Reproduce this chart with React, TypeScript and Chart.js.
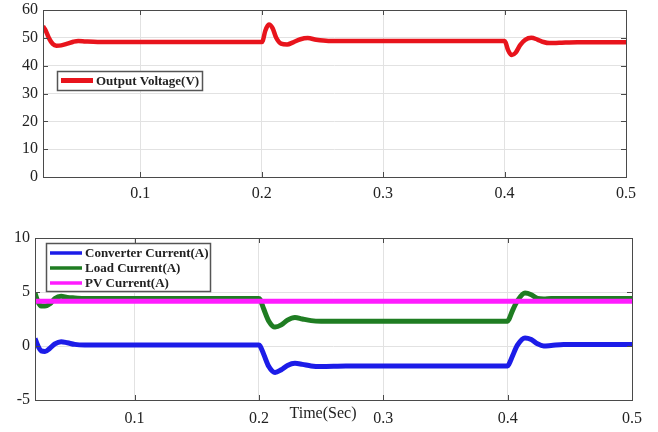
import React, { useEffect, useRef } from "react";
import { Chart, registerables } from "chart.js";

Chart.register(...registerables);

// ---------- DATA ----------
const xTickValues = [0.1, 0.2, 0.3, 0.4, 0.5];

const voltageTime = [0.02, 0.022, 0.025, 0.028, 0.031, 0.035, 0.04, 0.045, 0.049, 0.055, 0.065, 0.2, 0.201, 0.203, 0.206, 0.209, 0.212, 0.216, 0.221, 0.226, 0.232, 0.238, 0.245, 0.255, 0.27, 0.4, 0.401, 0.403, 0.406, 0.409, 0.413, 0.417, 0.422, 0.427, 0.432, 0.437, 0.445, 0.46, 0.5];
const outputVoltage = [54.2, 52.8, 49.8, 47.8, 47.2, 47.3, 47.9, 48.6, 48.9, 48.7, 48.5, 48.5, 49.0, 52.5, 54.8, 53.5, 50.0, 47.9, 47.6, 48.4, 49.5, 49.9, 49.3, 48.9, 48.9, 48.9, 48.2, 45.5, 43.8, 44.6, 47.5, 49.3, 50.0, 49.4, 48.5, 48.1, 48.2, 48.4, 48.4];

const currentTime = [0.02, 0.022, 0.025, 0.028, 0.032, 0.036, 0.041, 0.046, 0.052, 0.06, 0.2, 0.201, 0.204, 0.208, 0.213, 0.218, 0.223, 0.229, 0.235, 0.242, 0.25, 0.27, 0.4, 0.401, 0.404, 0.408, 0.414, 0.419, 0.424, 0.429, 0.435, 0.445, 0.46, 0.5];
const converterCurrent = [0.7, 0.1, -0.45, -0.5, -0.2, 0.2, 0.4, 0.3, 0.15, 0.1, 0.1, 0.0, -0.8, -1.9, -2.45, -2.2, -1.8, -1.6, -1.7, -1.85, -1.9, -1.85, -1.85, -1.7, -0.9, 0.1, 0.75, 0.6, 0.2, 0.0, 0.05, 0.15, 0.15, 0.15];
const loadCurrent = [4.9, 4.2, 3.7, 3.7, 3.9, 4.4, 4.6, 4.5, 4.45, 4.4, 4.4, 4.3, 3.4, 2.3, 1.75, 1.95, 2.4, 2.65, 2.5, 2.35, 2.3, 2.3, 2.3, 2.45, 3.3, 4.2, 4.9, 4.75, 4.4, 4.35, 4.4, 4.4, 4.4, 4.4];
const pvTime = [0.02, 0.5];
const pvCurrent = [4.15, 4.15];

const zip = (xs: number[], ys: number[]) => xs.map((x, i) => ({ x, y: ys[i] }));

const SERIF = "'Liberation Serif', 'Times New Roman', serif";

// ---------- PLUGIN: MATLAB-style frame, inward ticks, legend, extra label ----------
const matlabPlugin = {
  id: "matlabFrame",
  afterDraw(chart: any, _args: any, opts: any) {
    const { ctx, chartArea: a, scales } = chart;
    ctx.save();
    // frame
    ctx.strokeStyle = "#4a4a4a";
    ctx.lineWidth = 1;
    ctx.strokeRect(Math.round(a.left) + 0.5, Math.round(a.top) + 0.5, Math.round(a.width), Math.round(a.height));
    // inward ticks
    const tl = 5;
    ctx.beginPath();
    scales.x.ticks.forEach((t: any) => {
      const px = Math.round(scales.x.getPixelForValue(t.value)) + 0.5;
      ctx.moveTo(px, a.bottom);
      ctx.lineTo(px, a.bottom - tl);
      ctx.moveTo(px, a.top);
      ctx.lineTo(px, a.top + tl);
    });
    scales.y.ticks.forEach((t: any) => {
      const py = Math.round(scales.y.getPixelForValue(t.value)) + 0.5;
      ctx.moveTo(a.left, py);
      ctx.lineTo(a.left + tl, py);
      ctx.moveTo(a.right, py);
      ctx.lineTo(a.right - tl, py);
    });
    ctx.stroke();

    // legend
    const L = opts && opts.legend;
    if (L) {
      ctx.fillStyle = "#ffffff";
      ctx.fillRect(L.x, L.y, L.w, L.h);
      ctx.strokeStyle = "#555555";
      ctx.lineWidth = 1.5;
      ctx.strokeRect(L.x + 0.5, L.y + 0.5, L.w, L.h);
      ctx.font = `bold 13px ${SERIF}`;
      ctx.textBaseline = "middle";
      ctx.textAlign = "left";
      chart.data.datasets.forEach((ds: any, i: number) => {
        const cy = L.y + L.firstRow + i * L.rowGap;
        ctx.strokeStyle = ds.borderColor;
        ctx.lineWidth = L.lineWidth;
        ctx.beginPath();
        ctx.moveTo(L.x + L.lineStart, cy);
        ctx.lineTo(L.x + L.lineStart + L.lineLen, cy);
        ctx.stroke();
        ctx.fillStyle = "#222222";
        ctx.fillText(ds.label, L.x + L.lineStart + L.lineLen + 3, cy + 1);
      });
    }
    // extra label
    const T = opts && opts.title;
    if (T) {
      ctx.font = `16px ${SERIF}`;
      ctx.fillStyle = "#222222";
      ctx.textAlign = "center";
      ctx.textBaseline = "middle";
      ctx.fillText(T.text, T.x, T.y);
    }
    ctx.restore();
  },
};

function makeScales(yMin: number, yMax: number, yStep: number, yWidth: number, xHeight: number, xPad: number) {
  return {
    x: {
      type: "linear",
      min: 0.02,
      max: 0.5,
      afterBuildTicks: (s: any) => {
        s.ticks = xTickValues.map((v) => ({ value: v }));
      },
      afterFit: (s: any) => {
        s.height = xHeight;
        s.paddingLeft = 0;
        s.paddingRight = 0;
      },
      grid: { color: "#e2e2e2", lineWidth: 1, drawTicks: false },
      border: { display: false },
      ticks: {
        color: "#222222",
        font: { family: SERIF, size: 16 },
        padding: xPad,
        maxRotation: 0,
        autoSkip: false,
        callback: (v: number) => String(Math.round(v * 10) / 10),
      },
    },
    y: {
      min: yMin,
      max: yMax,
      afterFit: (s: any) => {
        s.width = yWidth;
        s.paddingTop = 0;
        s.paddingBottom = 0;
      },
      grid: { color: "#e2e2e2", lineWidth: 1, drawTicks: false },
      border: { display: false },
      ticks: {
        stepSize: yStep,
        color: "#222222",
        font: { family: SERIF, size: 16 },
        padding: 5,
      },
    },
  };
}

function TopChart() {
  const ref = useRef<HTMLCanvasElement | null>(null);
  useEffect(() => {
    const chart = new Chart(ref.current as HTMLCanvasElement, {
      type: "line",
      data: {
        datasets: [
          {
            label: "Output Voltage(V)",
            data: zip(voltageTime, outputVoltage),
            borderColor: "#e8141c",
            borderWidth: 4.5,
            pointRadius: 0,
            cubicInterpolationMode: "monotone",
          },
        ],
      },
      options: {
        animation: false,
        responsive: false,
        devicePixelRatio: 1,
        layout: { padding: { top: 10, right: 32, left: 0, bottom: 0 } },
        scales: makeScales(0, 60, 10, 43, 38, 7) as any,
        plugins: {
          legend: { display: false },
          tooltip: { enabled: false },
          matlabFrame: {
            legend: { x: 57, y: 71, w: 145, h: 19, firstRow: 9.5, rowGap: 15, lineStart: 4, lineLen: 32, lineWidth: 5 },
          },
        } as any,
      },
      plugins: [matlabPlugin],
    } as any);
    return () => chart.destroy();
  }, []);
  return <canvas ref={ref} width={658} height={215} style={{ display: "block" }} />;
}

function BottomChart() {
  const ref = useRef<HTMLCanvasElement | null>(null);
  useEffect(() => {
    const chart = new Chart(ref.current as HTMLCanvasElement, {
      type: "line",
      data: {
        datasets: [
          {
            label: "Converter Current(A)",
            data: zip(currentTime, converterCurrent),
            borderColor: "#1c1ce8",
            borderWidth: 5,
            pointRadius: 0,
            cubicInterpolationMode: "monotone",
            order: 2,
          },
          {
            label: "Load Current(A)",
            data: zip(currentTime, loadCurrent),
            borderColor: "#1f7d22",
            borderWidth: 5,
            pointRadius: 0,
            cubicInterpolationMode: "monotone",
            order: 1,
          },
          {
            label: "PV Current(A)",
            data: zip(pvTime, pvCurrent),
            borderColor: "#ff1cff",
            borderWidth: 5,
            pointRadius: 0,
            order: 0,
          },
        ],
      },
      options: {
        animation: false,
        responsive: false,
        devicePixelRatio: 1,
        layout: { padding: { top: 23, right: 26, left: 0, bottom: 0 } },
        scales: makeScales(-5, 10, 5, 35, 32, 9) as any,
        plugins: {
          legend: { display: false },
          tooltip: { enabled: false },
          matlabFrame: {
            legend: { x: 46, y: 28, w: 164, h: 48, firstRow: 10, rowGap: 15, lineStart: 4, lineLen: 32, lineWidth: 3.5 },
            title: { text: "Time(Sec)", x: 323, y: 199 },
          },
        } as any,
      },
      plugins: [matlabPlugin],
    } as any);
    return () => chart.destroy();
  }, []);
  return <canvas ref={ref} width={658} height={217} style={{ display: "block" }} />;
}

export default function App() {
  return (
    <div style={{ position: "absolute", left: 0, top: 0, width: 658, height: 432, background: "#ffffff" }}>
      <TopChart />
      <BottomChart />
    </div>
  );
}
